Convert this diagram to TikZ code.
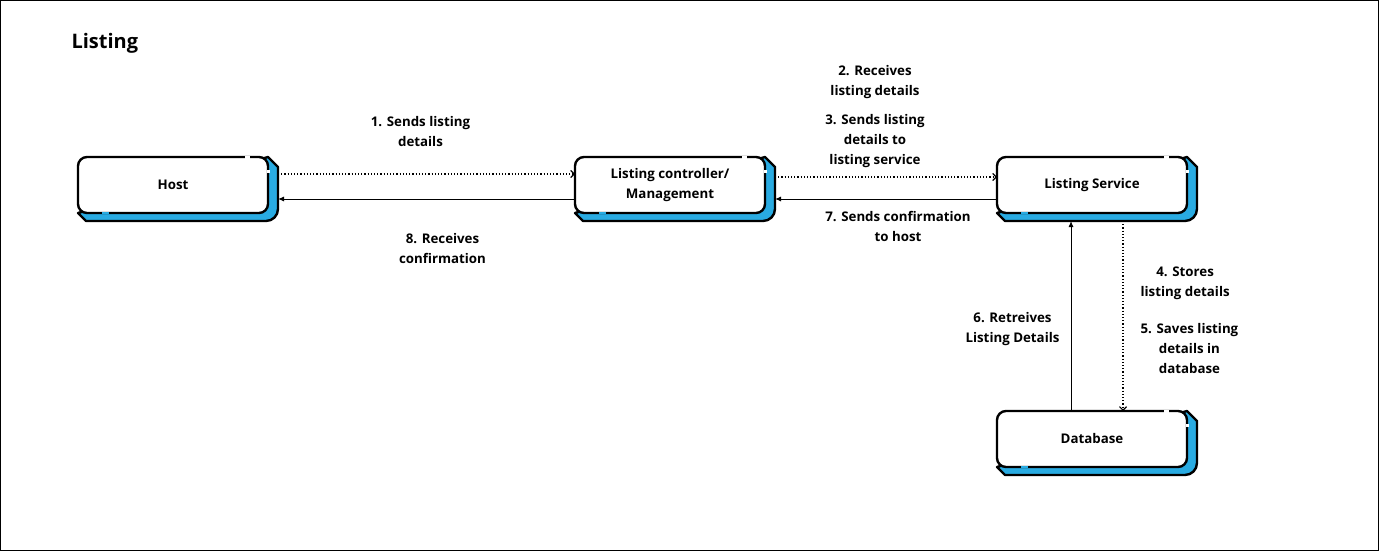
\documentclass[tikz,border=0pt]{standalone}
\usepackage{fontspec}
\setmainfont{Open Sans}
\usetikzlibrary{arrows.meta, positioning, backgrounds, calc}
\definecolor{flowBlue}{RGB}{41,171,226}

\begin{document}
\begin{tikzpicture}[
    x=1pt, y=-1pt,
    node distance=8pt,
    font=\fontsize{13.3}{20}\selectfont\bfseries,
    box/.style={rounded corners=9pt, draw=black, line width=2.4pt, fill=white, outer sep=0pt,
      minimum width=190pt, minimum height=56pt, align=center},
    lbl/.style={align=center, inner sep=1pt},
    dots/.style={dotted, line width=1.2pt, -{Straight Barb[length=3.5pt,width=7pt]}},
    arrow/.style={line width=1pt, -{Latex[length=6pt,width=5pt]}}
  ]
    \useasboundingbox (0,0) rectangle (1379,551);
    \draw[line width=1pt] (0.5,0.5) rectangle (1378.5,550.5);

    \node[anchor=west, font=\fontsize{20}{24}\selectfont\bfseries] (title) at (68,43) {Listing};

    \node[box] (host) at (173,185) {Host};
    \node[box, right=307pt of host] (ctrl) {Listing controller/\\Management};
    \node[box, right=232pt of ctrl] (serv) {Listing Service};
    \node[box, below=198pt of serv] (db) {Database};

    % blue offset under each box, plus the little breaks in the outlines
    \begin{scope}[on background layer]
      \foreach \n in {host, ctrl, serv, db}
        \draw[fill=flowBlue, line width=2.4pt, line join=round]
          (\n.south west) -- ++(8,8) [rounded corners=12pt] -- ($(\n.south east)+(10,8)$)
          [sharp corners] -- ($(\n.north east)+(10,10)$) -- (\n.north east) -- cycle;
    \end{scope}
    \foreach \n in {host, ctrl, serv, db} {
      \draw[white, line width=3pt] ($(\n.north east)+(-18,0)$) -- ++(-5,0);
      \draw[white, line width=3pt] ($(\n.east)+(0,-12)$) -- ++(0,-3);
      \draw[flowBlue, line width=2.6pt] ($(\n.south west)+(24,0)$) -- ++(7,0);
    }

    \draw[dots] ([xshift=10pt,yshift=11pt]host.east) -- node[lbl, above=26pt, xshift=-6pt] (l1) {1. Sends listing\\details} ([yshift=11pt]ctrl.west);
    \draw[arrow] ([yshift=-14pt]ctrl.west) -- node[lbl, below=33pt, xshift=16pt] (l8) {8. Receives\\confirmation} ([xshift=10pt,yshift=-14pt]host.east);

    \draw[dots] ([xshift=10pt,yshift=8pt]ctrl.east) -- node[lbl, above=8pt, xshift=-11pt] (l3) {3. Sends listing\\details to\\listing service} ([yshift=8pt]serv.west);
    \node[lbl, above=13pt of l3] (l2) {2. Receives\\listing details};
    \draw[arrow] ([yshift=-14pt]serv.west) -- node[lbl, below=11pt, xshift=12pt] (l7) {7. Sends confirmation\\to host} ([xshift=10pt,yshift=-14pt]ctrl.east);

    \draw[dots] ([xshift=31pt,yshift=-8pt]serv.south) -- node[lbl, pos=0.33, right=16pt] (l4) {4. Stores\\listing details} node[lbl, pos=0.67, right=16pt] (l5) {5. Saves listing\\details in\\database} ([xshift=31pt]db.north);
    \draw[arrow] ([xshift=-21pt]db.north) -- node[lbl, pos=0.43, left=10pt] (l6) {6. Retreives\\Listing Details} ([xshift=-21pt,yshift=-8pt]serv.south);
  \end{tikzpicture}
\end{document}
